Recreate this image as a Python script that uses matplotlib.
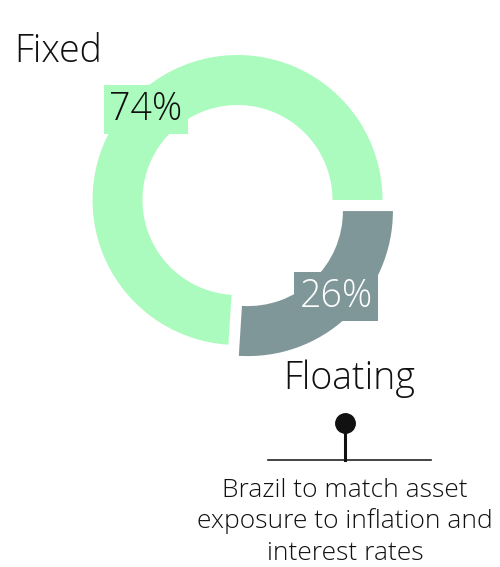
import matplotlib
matplotlib.use("Agg")
import matplotlib.pyplot as plt

labels = ["Fixed", "Floating"]
shares = [74, 26]
colors = ["#abfbbf", "#7f9799"]
note_lines = ["Brazil to match asset", "exposure to inflation and", "interest rates"]

W, H = 500, 567
plt.rcParams["font.family"] = ["Open Sans", "DejaVu Sans"]
plt.rcParams["font.weight"] = "light"

fig = plt.figure(figsize=(W / 100, H / 100), dpi=100)
fig.patch.set_facecolor("white")

# ring drawn in units of its outer radius (145 px), centre at (237.5, 200) px from top-left
R = 145.0
cx, cy = 237.5, 200.0
ax = fig.add_axes([0, 0, 1, 1])
ax.pie(shares, colors=colors, startangle=0, counterclock=True,
       explode=[0, 0.105], radius=1.0,
       wedgeprops=dict(width=50 / R, linewidth=0))
ax.set_xlim(-cx / R, (W - cx) / R)
ax.set_ylim(-(H - cy) / R, cy / R)
ax.axis("off")


def px(x, y):
    return x / W, 1 - y / H


big = 27
fig.text(*px(14, 62), labels[0], fontsize=big, color="#111111", ha="left", va="baseline")
fig.text(*px(349, 389), labels[1], fontsize=big, color="#111111", ha="center", va="baseline")

fig.text(*px(146, 120), f"{shares[0]}%", fontsize=big, color="#111111",
         ha="center", va="baseline",
         bbox=dict(boxstyle="square,pad=0.14", fc=colors[0], ec="none"))
fig.text(*px(336, 307), f"{shares[1]}%", fontsize=big, color="white",
         ha="center", va="baseline",
         bbox=dict(boxstyle="square,pad=0.14", fc=colors[1], ec="none"))

# pin marker and baseline above the note
pin = fig.add_axes([0, 0, 1, 1])
pin.set_xlim(0, W)
pin.set_ylim(H, 0)
pin.axis("off")
pin.plot([268, 431], [460, 460], color="#222222", lw=1.2)
pin.plot([345, 345], [423, 460], color="#111111", lw=2.2)
pin.plot([345], [423], "o", color="#111111", ms=14)

for i, line in enumerate(note_lines):
    fig.text(*px(345, 497 + 31.5 * i), line, fontsize=19, color="#111111",
             ha="center", va="baseline")

fig.savefig("out.png", dpi=100, facecolor="white")
